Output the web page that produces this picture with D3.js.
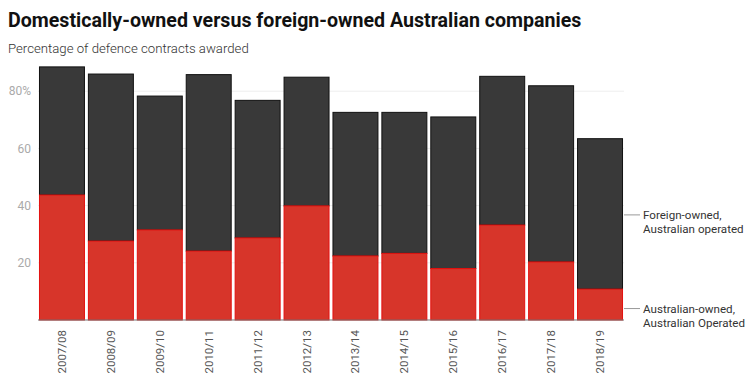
<!DOCTYPE html>
<html>
<head>
<meta charset="utf-8">
<script src="https://cdn.jsdelivr.net/npm/d3@7"></script>
<style>
  body { margin: 0; background: #fff; font-family: Roboto, sans-serif; }
</style>
</head>
<body>
<div id="chart"></div>
<script>

var width = 754,
    height = 389;

// data (percent of contracts)
var years = ["2007/08", "2008/09", "2009/10", "2010/11", "2011/12", "2012/13",
             "2013/14", "2014/15", "2015/16", "2016/17", "2017/18", "2018/19"];
var australianOwned = [43.7, 27.6, 31.5, 24.1, 28.7, 39.9, 22.4, 23.3, 18.0, 33.2, 20.3, 10.8];
var foreignOwned    = [44.8, 58.4, 46.8, 61.7, 48.1, 45.0, 50.2, 49.3, 53.0, 52.0, 61.6, 52.6];
var yTicks = [20, 40, 60, 80];

var margin = {top: 66, right: 130, bottom: 69, left: 38};
var innerW = width - margin.left - margin.right,
    innerH = height - margin.top - margin.bottom;

var svg = d3.select("#chart").append("svg")
    .attr("width", width)
    .attr("height", height);

// title + subtitle
svg.append("text")
    .attr("x", 8).attr("y", 27)
    .style("font-size", "19.6px")
    .style("font-weight", "bold")
    .style("fill", "#111")
    .text("Domestically-owned versus foreign-owned Australian companies");

svg.append("text")
    .attr("x", 8).attr("y", 53)
    .style("font-size", "13.2px")
    .style("font-weight", 300)
    .style("fill", "#333")
    .text("Percentage of defence contracts awarded");

var g = svg.append("g")
    .attr("transform", "translate(" + margin.left + "," + margin.top + ")");

var x = d3.scaleBand()
    .domain(years)
    .range([0, innerW])
    .paddingInner(0.06)
    .paddingOuter(0.02);

var y = d3.scaleLinear()
    .domain([0, 88.5])
    .range([innerH, innerH - 88.5 * 2.86]);

// gridlines
g.selectAll(".grid")
    .data(yTicks)
  .enter().append("line")
    .attr("class", "grid")
    .attr("x1", 0).attr("x2", innerW)
    .attr("y1", function(d) { return y(d); })
    .attr("y2", function(d) { return y(d); })
    .style("stroke", "#eeeeee")
    .style("stroke-width", 1);

// y labels
g.selectAll(".ylab")
    .data(yTicks)
  .enter().append("text")
    .attr("class", "ylab")
    .attr("x", -7)
    .attr("y", function(d) { return y(d); })
    .attr("dy", "0.35em")
    .attr("text-anchor", "end")
    .style("font-size", "12px")
    .style("fill", "#aaa")
    .text(function(d) { return d == 80 ? d + "%" : d; });

var rows = years.map(function(yr, i) {
  return {year: yr, aus: australianOwned[i], foreign: foreignOwned[i]};
});

// foreign-owned (stacked on top)
g.selectAll(".foreign")
    .data(rows)
  .enter().append("rect")
    .attr("class", "foreign")
    .attr("x", function(d) { return x(d.year) + 0.5; })
    .attr("width", x.bandwidth() - 1)
    .attr("y", function(d) { return y(d.aus + d.foreign); })
    .attr("height", function(d) { return y(d.aus) - y(d.aus + d.foreign); })
    .style("fill", "#393939")
    .style("stroke", "#111")
    .style("stroke-width", 1);

// australian-owned
g.selectAll(".aus")
    .data(rows)
  .enter().append("rect")
    .attr("class", "aus")
    .attr("x", function(d) { return x(d.year) + 0.5; })
    .attr("width", x.bandwidth() - 1)
    .attr("y", function(d) { return y(d.aus); })
    .attr("height", function(d) { return y(0) - y(d.aus); })
    .style("fill", "#d7352a")
    .style("stroke", "#e3110f")
    .style("stroke-width", 1);

// baseline
g.append("line")
    .attr("x1", 0).attr("x2", innerW)
    .attr("y1", y(0)).attr("y2", y(0))
    .style("stroke", "#777")
    .style("stroke-width", 1.2);

// x labels, rotated
g.selectAll(".xlab")
    .data(years)
  .enter().append("text")
    .attr("class", "xlab")
    .attr("transform", function(d) {
      return "translate(" + (x(d) + x.bandwidth() / 2) + "," + (y(0) + 10) + ") rotate(-90)";
    })
    .attr("dy", "0.35em")
    .attr("text-anchor", "end")
    .style("font-size", "11.5px")
    .style("fill", "#555")
    .text(function(d) { return d; });

// legend labels on the right, pointing at the last bar
var last = rows[rows.length - 1];
var legend = [
  {lines: ["Foreign-owned,", "Australian operated"], ly: y(last.aus + last.foreign / 2) + 1},
  {lines: ["Australian-owned,", "Australian Operated"], ly: y(last.aus / 2) + 4}
];

var lg = g.selectAll(".legend")
    .data(legend)
  .enter().append("g")
    .attr("class", "legend");

lg.append("line")
    .attr("x1", innerW).attr("x2", innerW + 16)
    .attr("y1", function(d) { return d.ly; })
    .attr("y2", function(d) { return d.ly; })
    .style("stroke", "#999")
    .style("stroke-width", 1);

lg.append("text")
    .attr("x", innerW + 19)
    .attr("y", function(d) { return d.ly; })
    .style("font-size", "11.6px")
    .style("fill", "#333")
    .selectAll("tspan")
    .data(function(d) { return d.lines; })
  .enter().append("tspan")
    .attr("x", innerW + 19)
    .attr("dy", function(d, i) { return i == 0 ? "0.35em" : "1.25em"; })
    .text(function(d) { return d; });

</script>
</body>
</html>
